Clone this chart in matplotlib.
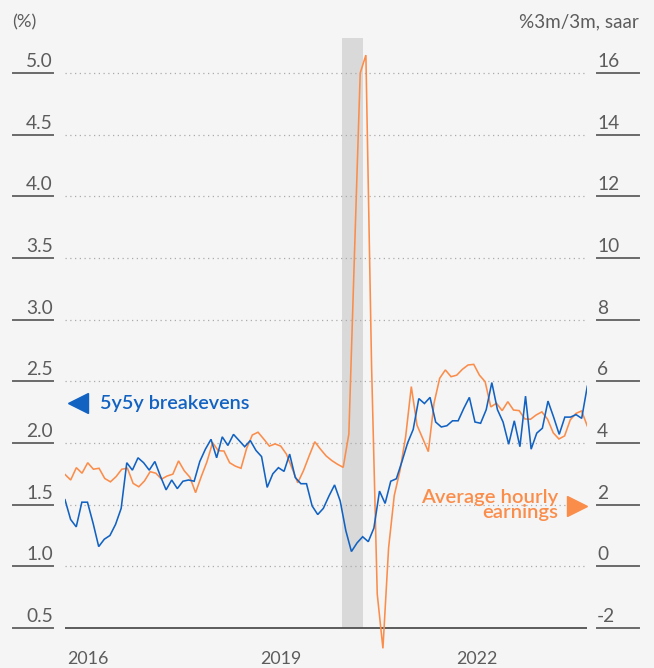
import matplotlib
matplotlib.use("Agg")
import matplotlib.pyplot as plt
import numpy as np
from matplotlib import transforms

plt.rcParams['font.family'] = ['Lato', 'DejaVu Sans']

# ---------------- data ----------------
# 5y5y breakevens (%), monthly, left axis
breakevens = [
    1.54, 1.38, 1.32, 1.52, 1.52, 1.35, 1.16, 1.22, 1.25, 1.34,
    1.47, 1.84, 1.78, 1.88, 1.84, 1.78, 1.85, 1.73, 1.62, 1.70,
    1.63, 1.69, 1.70, 1.69, 1.85, 1.95, 2.03, 1.88, 2.05, 1.98,
    2.07, 2.02, 1.97, 2.02, 1.94, 1.89, 1.64, 1.75, 1.80, 1.77,
    1.91, 1.72, 1.67, 1.67, 1.49, 1.42, 1.47, 1.57, 1.66, 1.53,
    1.29, 1.12, 1.19, 1.24, 1.20, 1.31, 1.61, 1.51, 1.69, 1.71,
    1.85, 2.00, 2.11, 2.36, 2.32, 2.37, 2.17, 2.13, 2.14, 2.18,
    2.18, 2.28, 2.37, 2.17, 2.16, 2.27, 2.49, 2.27, 2.17, 1.99,
    2.18, 1.97, 2.38, 1.95, 2.08, 2.12, 2.34, 2.21, 2.07, 2.21,
    2.21, 2.23, 2.20, 2.46,
]
# Average hourly earnings (%3m/3m, saar), right axis
ahe = [
    2.98, 2.80, 3.20, 3.02, 3.36, 3.15, 3.18, 2.85, 2.74, 2.91,
    3.15, 3.18, 2.69, 2.58, 2.77, 3.07, 3.02, 2.83, 2.93, 2.99,
    3.42, 3.10, 2.89, 2.39, 2.91, 3.39, 4.01, 3.75, 3.74, 3.36,
    3.25, 3.18, 3.83, 4.26, 4.35, 4.13, 3.90, 3.97, 3.90, 3.64,
    3.18, 2.71, 3.10, 3.58, 4.04, 3.80, 3.58, 3.43, 3.31, 3.21,
    4.29, 10.2, 16.0, 16.58, 6.5, -0.9, -2.66, 0.6, 2.3, 3.1,
    4.2, 5.83, 4.58, 4.15, 3.72, 5.29, 6.10, 6.37, 6.15, 6.20,
    6.39, 6.53, 6.55, 6.20, 5.99, 5.17, 5.29, 5.05, 5.34, 5.07,
    5.05, 4.78, 4.77, 4.91, 5.01, 4.77, 4.33, 4.13, 4.23, 4.75,
    4.96, 5.04, 4.55,
]
left_ticks = [0.5, 1.0, 1.5, 2.0, 2.5, 3.0, 3.5, 4.0, 4.5, 5.0]
left_labels = ['0.5', '1.0', '1.5', '2.0', '2.5', '3.0', '3.5', '4.0', '4.5', '5.0']
right_ticks = [-2, 0, 2, 4, 6, 8, 10, 12, 14, 16]
right_labels = ['-2', '0', '2', '4', '6', '8', '10', '12', '14', '16']
year_labels = ['2016', '2019', '2022']
year_pos = [0.4, 34.7, 69.6]          # month index of label left edge
recession = (49.4, 53.0)              # month index span of shaded period

# ---------------- style ----------------
BG = '#f5f5f5'
BLUE = '#1262c2'
ORANGE = '#fb8d4b'
GREY_TXT = '#5c5c5c'
W, H = 654, 668

fig = plt.figure(figsize=(W / 100, H / 100), dpi=100, facecolor=BG)
ax = fig.add_axes([65 / W, (H - 650) / H, 522.3 / W, 612 / H])
ax2 = ax.twinx()
ax.set_zorder(3)
ax.patch.set_visible(False)
ax2.patch.set_facecolor(BG)

x_blue = np.arange(len(breakevens))
x_ahe = np.linspace(0, len(breakevens) - 1, len(ahe))

upp = 4.5 / 555.0
lo, hi = 0.5 - 22 * upp, 5.0 + 35 * upp
ax.set_xlim(x_blue[0], x_blue[-1])
ax.set_ylim(lo, hi)
ax2.set_ylim(4 * lo - 4, 4 * hi - 4)

for a in (ax, ax2):
    for s in a.spines.values():
        s.set_visible(False)
    a.set_yticks([])
    a.tick_params(length=0)

# shaded period
ax2.fill_between(list(recession), right_ticks[0], 4 * hi - 4, color='#d9d9d9', lw=0, zorder=0)

# gridlines
for t in right_ticks[1:]:
    ax2.axhline(t, color='#ababab', lw=0.9, ls=(0, (1, 2.8)), zorder=1)
ax2.axhline(right_ticks[0], color='#4f4f4f', lw=1.3, zorder=1)

# lines
ax2.plot(x_ahe, ahe, color=ORANGE, lw=1.15, zorder=2, solid_joinstyle='miter')
ax.plot(x_blue, breakevens, color=BLUE, lw=1.15, zorder=2, solid_joinstyle='miter')

# left tick labels with underlines
tl = transforms.blended_transform_factory(fig.transFigure, ax.transData)
up = transforms.ScaledTranslation(0, 3 / 100, fig.dpi_scale_trans)
for t, lab in zip(left_ticks, left_labels):
    ax.plot([13 / W, 53 / W], [t, t], transform=tl, color='#6a6a6a', lw=1.4, clip_on=False)
    ax.text(53 / W, t, lab, transform=tl + up, ha='right', va='bottom',
            fontsize=13.8, color=GREY_TXT, clip_on=False)

# right tick labels with underlines
tr = transforms.blended_transform_factory(fig.transFigure, ax2.transData)
for t, lab in zip(right_ticks, right_labels):
    ax2.plot([597 / W, 639 / W], [t, t], transform=tr, color='#6a6a6a', lw=1.4, clip_on=False)
    ax2.text(597 / W, t, lab, transform=tr + up, ha='left', va='bottom',
             fontsize=13.8, color=GREY_TXT, clip_on=False)

# x labels
tx = transforms.blended_transform_factory(ax.transData, fig.transFigure)
ax.set_xticks([])
for p, lab in zip(year_pos, year_labels):
    ax.text(p, 4.5 / H, lab, transform=tx, ha='left', va='baseline',
            fontsize=12.9, color=GREY_TXT, clip_on=False)

# axis unit labels
fig.text(12 / W, (H - 22) / H, '(%)', ha='left', va='center', fontsize=13.2, color=GREY_TXT)
fig.text(639 / W, (H - 22) / H, '%3m/3m, saar', ha='right', va='center', fontsize=13.6, color=GREY_TXT)

# series annotations
fig.lines.append(plt.Line2D([78 / W], [(H - 403) / H], marker='<', ms=15, color=BLUE,
                            transform=fig.transFigure, lw=0))
fig.text(100 / W, (H - 404) / H, '5y5y breakevens', ha='left', va='center',
         fontsize=14.3, color=BLUE, fontweight='semibold')
fig.lines.append(plt.Line2D([577 / W], [(H - 506) / H], marker='>', ms=15, color=ORANGE,
                            transform=fig.transFigure, lw=0))
fig.text(558 / W, (H - 505) / H, 'Average hourly\nearnings', ha='right', va='center',
         ma='right', fontsize=14.6, color=ORANGE, fontweight='semibold', linespacing=0.92)

fig.savefig('out.png', dpi=100, facecolor=BG)
